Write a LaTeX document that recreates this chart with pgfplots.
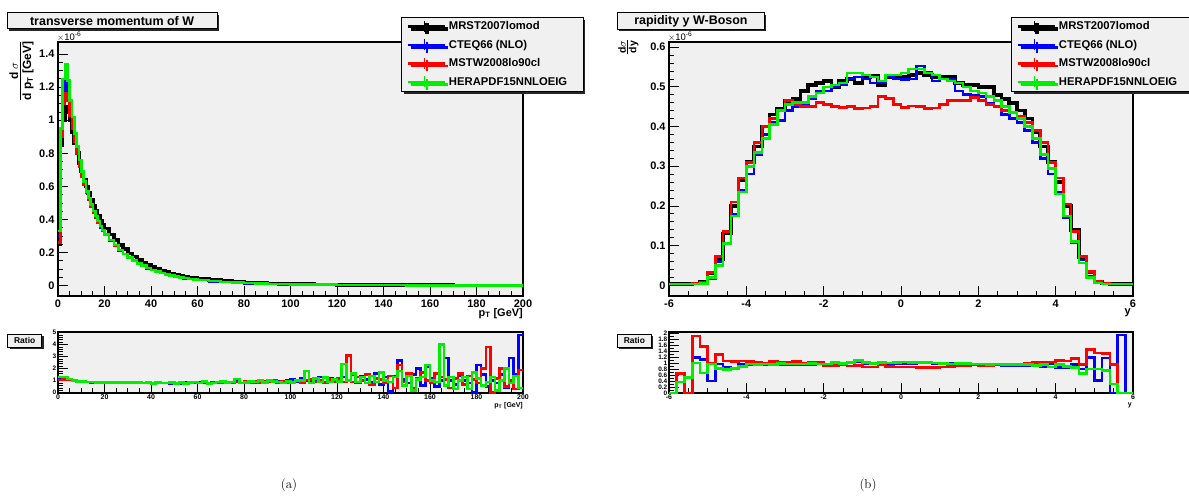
\documentclass[border=0pt]{standalone}
\usepackage{pgfplots}
\pgfplotsset{compat=1.18}
\usepackage{pgfplotstable}
\usepackage{fontspec}
\usetikzlibrary{shadows}
\newfontfamily\rootfont{Liberation Sans}
\newcommand\rf[1]{\rootfont\bfseries\fontsize{#1}{#1}\selectfont}
\definecolor{rootgray}{RGB}{240,240,240}
\definecolor{rblue}{RGB}{0,0,255}
\definecolor{rred}{RGB}{255,0,0}
\definecolor{rgreen}{RGB}{0,238,0}

% transverse momentum, x = left bin edge (GeV), values x 1e-6
\pgfplotstableread{
x k b r g
0 0.25 0.30 0.26 0.33
1 0.85 0.92 0.90 0.95
2 1.00 1.15 1.10 1.25
3 1.08 1.24 1.16 1.34
4 1.05 1.16 1.12 1.24
5 1.00 1.05 1.03 1.12
6 0.93 0.96 0.95 1.02
7 0.86 0.88 0.87 0.92
8 0.80 0.80 0.80 0.84
9 0.74 0.72 0.72 0.76
10 0.69 0.66 0.66 0.69
11 0.64 0.61 0.61 0.63
12 0.60 0.56 0.56 0.57
13 0.56 0.52 0.52 0.53
14 0.52 0.48 0.48 0.49
15 0.48 0.44 0.44 0.45
16 0.45 0.41 0.41 0.42
17 0.42 0.38 0.38 0.39
18 0.39 0.35 0.355 0.36
19 0.37 0.33 0.33 0.335
20 0.345 0.305 0.31 0.31
22 0.31 0.27 0.275 0.275
24 0.275 0.24 0.24 0.245
26 0.245 0.21 0.215 0.215
28 0.22 0.19 0.19 0.19
30 0.195 0.168 0.17 0.17
32 0.175 0.15 0.15 0.152
34 0.155 0.133 0.135 0.135
36 0.14 0.118 0.12 0.12
38 0.125 0.105 0.107 0.107
40 0.112 0.094 0.095 0.095
42 0.10 0.084 0.085 0.085
44 0.09 0.075 0.076 0.076
46 0.081 0.067 0.068 0.068
48 0.073 0.06 0.061 0.061
50 0.066 0.054 0.055 0.055
52 0.06 0.049 0.05 0.05
54 0.054 0.044 0.045 0.045
56 0.049 0.04 0.041 0.041
58 0.045 0.036 0.037 0.037
60 0.041 0.033 0.034 0.034
65 0.033 0.026 0.027 0.027
70 0.027 0.021 0.022 0.022
75 0.022 0.017 0.018 0.018
80 0.018 0.014 0.015 0.015
85 0.015 0.012 0.012 0.012
90 0.013 0.010 0.010 0.010
95 0.011 0.008 0.009 0.009
100 0.009 0.007 0.007 0.007
110 0.007 0.005 0.005 0.005
120 0.005 0.004 0.004 0.004
130 0.004 0.003 0.003 0.003
140 0.003 0.0025 0.0025 0.0025
150 0.0025 0.002 0.002 0.002
160 0.002 0.0015 0.0015 0.0015
170 0.0015 0.001 0.001 0.001
180 0.001 0.001 0.001 0.001
190 0.001 0.001 0.001 0.001
200 0.001 0.001 0.001 0.001
}\ptmain

% ratio to MRST2007lomod, pT bins of 2 GeV
\pgfplotstableread{
x b r g
0 1.15 1.05 1.30
2 1.15 1.10 1.30
4 1.05 1.05 1.15
6 0.98 0.98 1.02
8 0.93 0.93 0.95
10 0.90 0.90 0.92
12 0.88 0.88 0.90
14 0.87 0.88 0.88
16 0.86 0.86 0.87
18 0.86 0.86 0.87
20 0.85 0.86 0.86
22 0.84 0.86 0.85
24 0.85 0.86 0.85
26 0.84 0.84 0.85
28 0.83 0.85 0.84
30 0.84 0.84 0.84
32 0.82 0.85 0.83
34 0.83 0.84 0.84
36 0.82 0.82 0.80
38 0.84 0.83 0.86
40 0.80 0.82 0.78
42 0.83 0.82 0.84
44 0.80 0.80 0.82
46 0.82 0.80 0.80
48 0.78 0.81 0.84
50 0.82 0.78 0.79
52 0.79 0.82 0.83
54 0.83 0.80 0.78
56 0.86 0.82 0.84
58 0.80 0.80 0.90
60 0.90 0.82 0.80
62 0.85 0.88 0.94
64 0.80 0.78 0.76
66 0.88 0.84 0.82
68 0.82 0.86 0.90
70 0.90 0.82 0.96
72 0.80 0.90 0.84
74 0.86 0.82 0.88
76 0.92 0.88 1.15
78 0.82 0.80 0.82
80 0.88 0.92 0.86
82 0.98 0.86 0.92
84 0.86 0.96 0.88
86 0.94 0.86 1.00
88 0.84 0.92 0.86
90 1.05 0.94 1.00
92 0.90 1.00 0.92
94 0.98 0.86 0.90
96 0.86 0.94 0.80
98 1.00 0.80 0.95
100 1.10 0.90 0.85
102 0.92 1.00 1.00
104 1.20 0.85 1.00
106 1.00 1.05 1.80
108 0.85 1.10 0.80
110 1.05 0.90 1.20
112 1.30 1.00 0.90
114 0.90 0.85 1.25
116 1.20 1.10 0.90
118 1.00 0.95 1.10
120 0.90 1.20 0.95
122 1.30 0.90 2.40
124 1.00 3.10 1.00
126 1.50 0.90 1.60
128 0.80 1.30 0.90
130 1.40 1.00 1.30
132 1.10 1.50 0.80
134 0.90 0.70 1.40
136 1.60 1.20 0.90
138 0.70 1.10 1.70
140 1.30 0.80 1.00
142 0.10 1.40 0.90
144 1.40 0.40 1.30
146 2.70 2.30 1.80
148 1.10 0.90 0.60
150 0.80 1.60 1.40
152 1.50 0.40 0.20
154 2.00 1.20 1.10
156 0.60 1.70 1.30
158 2.20 1.00 2.30
160 1.20 0.80 1.00
162 0.50 1.60 0.90
164 1.00 1.30 4.00
166 2.90 1.10 0.60
168 1.00 0.40 1.30
170 0.70 1.20 0.30
172 1.40 1.60 1.00
174 1.00 0.70 1.30
176 0.80 1.40 0.30
178 0.00 1.10 1.70
180 2.30 0.80 1.20
182 1.50 2.00 0.60
184 0.50 3.80 0.90
186 1.00 0.00 1.30
188 0.80 1.20 0.20
190 1.50 2.00 1.00
192 0.40 0.50 2.00
194 2.90 1.00 0.80
196 1.50 0.30 1.40
198 4.80 1.90 0.40
200 4.80 1.90 0.40
}\ptratio

% rapidity, bins of 0.2, values x 1e-6
\pgfplotstableread{
x k b r g
-6.0 0.003 0.003 0.003 0.003
-5.8 0.003 0.003 0.003 0.003
-5.6 0.003 0.003 0.003 0.003
-5.4 0.004 0.003 0.004 0.003
-5.2 0.008 0.005 0.008 0.005
-5.0 0.030 0.017 0.032 0.020
-4.8 0.065 0.060 0.073 0.050
-4.6 0.130 0.107 0.135 0.105
-4.4 0.200 0.180 0.210 0.175
-4.2 0.265 0.240 0.270 0.235
-4.0 0.310 0.280 0.310 0.300
-3.8 0.350 0.330 0.360 0.335
-3.6 0.400 0.380 0.400 0.370
-3.4 0.430 0.410 0.420 0.405
-3.2 0.445 0.415 0.440 0.440
-3.0 0.465 0.440 0.465 0.455
-2.8 0.470 0.450 0.455 0.460
-2.6 0.490 0.455 0.450 0.460
-2.4 0.505 0.470 0.450 0.475
-2.2 0.510 0.490 0.460 0.485
-2.0 0.515 0.490 0.455 0.500
-1.8 0.500 0.500 0.450 0.505
-1.6 0.515 0.505 0.448 0.510
-1.4 0.520 0.520 0.450 0.535
-1.2 0.510 0.525 0.445 0.535
-1.0 0.525 0.520 0.447 0.530
-0.8 0.528 0.510 0.450 0.525
-0.6 0.505 0.510 0.475 0.515
-0.4 0.525 0.525 0.470 0.530
-0.2 0.525 0.520 0.455 0.530
0.0 0.525 0.518 0.448 0.535
0.2 0.530 0.520 0.452 0.545
0.4 0.535 0.553 0.450 0.545
0.6 0.530 0.536 0.446 0.535
0.8 0.525 0.515 0.447 0.530
1.0 0.525 0.520 0.455 0.520
1.2 0.525 0.520 0.466 0.515
1.4 0.510 0.490 0.466 0.510
1.6 0.505 0.480 0.465 0.500
1.8 0.505 0.478 0.473 0.490
2.0 0.500 0.475 0.465 0.485
2.2 0.500 0.458 0.456 0.475
2.4 0.480 0.450 0.450 0.465
2.6 0.470 0.430 0.440 0.450
2.8 0.460 0.420 0.435 0.435
3.0 0.440 0.410 0.425 0.420
3.2 0.420 0.390 0.410 0.400
3.4 0.385 0.360 0.390 0.370
3.6 0.350 0.320 0.360 0.330
3.8 0.310 0.280 0.310 0.295
4.0 0.260 0.235 0.270 0.230
4.2 0.200 0.170 0.205 0.175
4.4 0.140 0.107 0.135 0.110
4.6 0.070 0.064 0.072 0.056
4.8 0.033 0.022 0.035 0.020
5.0 0.008 0.006 0.010 0.006
5.2 0.004 0.003 0.004 0.003
5.4 0.003 0.003 0.003 0.003
5.6 0.003 0.003 0.003 0.003
5.8 0.003 0.003 0.003 0.003
6.0 0.003 0.003 0.003 0.003
}\ymain

% ratio to MRST2007lomod, rapidity
\pgfplotstableread{
x b r g
-6.0 0 0 0
-5.8 0.65 0.65 0.37
-5.6 0 0 0.52
-5.4 1.19 1.91 1.01
-5.2 1.12 1.57 0.67
-5.0 0.40 1.01 0.97
-4.8 0.97 1.29 0.82
-4.6 0.88 1.07 0.79
-4.4 0.82 1.05 0.82
-4.2 0.97 1.08 0.90
-4.0 0.95 1.05 0.97
-3.8 0.97 1.04 0.96
-3.6 0.95 1.00 0.98
-3.4 0.96 1.05 0.95
-3.2 0.95 1.03 1.00
-3.0 0.95 1.02 0.98
-2.8 0.96 1.05 0.98
-2.6 0.95 1.00 0.97
-2.4 0.96 1.04 1.00
-2.2 0.98 1.02 0.98
-2.0 0.97 0.92 0.97
-1.8 0.99 0.93 1.02
-1.6 1.00 0.95 0.99
-1.4 1.02 0.91 1.02
-1.2 1.06 0.92 1.09
-1.0 1.00 0.87 1.02
-0.8 0.98 0.88 1.00
-0.6 1.01 0.94 1.02
-0.4 0.98 0.90 1.01
-0.2 0.99 0.87 1.03
0.0 0.97 0.87 1.04
0.2 0.98 0.88 1.03
0.4 1.03 0.85 1.02
0.6 1.01 0.85 1.02
0.8 0.98 0.86 1.01
1.0 0.99 0.87 0.99
1.2 0.99 0.89 0.98
1.4 0.96 0.92 1.00
1.6 0.95 0.92 0.99
1.8 0.95 0.95 0.97
2.0 0.95 0.93 0.97
2.2 0.92 0.92 0.95
2.4 0.95 0.95 0.98
2.6 0.93 0.95 0.96
2.8 0.92 0.95 0.95
3.0 0.93 0.98 0.95
3.2 0.91 0.99 0.95
3.4 0.94 1.02 0.92
3.6 0.89 1.02 0.95
3.8 0.97 1.04 0.88
4.0 0.85 1.10 0.95
4.2 0.85 1.07 0.90
4.4 0.95 1.15 0.85
4.6 0.80 0.95 0.65
4.8 1.20 1.47 0.80
5.0 0.43 1.35 0.80
5.2 1.18 1.33 0.75
5.4 0 0.95 0.30
5.6 1.95 0 0
5.8 0 0 0
6.0 0 0 0
}\yratio

\pgfplotsset{
  rootaxis/.style={scale only axis, anchor=north west,
    axis background/.style={fill=rootgray},
    axis line style={line width=1.1bp},
    tick align=inside, tick pos=left,
    tick style={black, line width=0.8bp},
    /pgf/number format/assume math mode=true,
    legend cell align=left},
  mainlegend/.style={legend style={anchor=north west, draw=black, fill=rootgray,
    line width=0.8bp, font=\rf{11.3}, inner xsep=5bp, inner ysep=0bp,
    column sep=1bp, row sep=0bp, nodes={inner sep=1bp, minimum height=18.5bp},
    drop shadow={shadow xshift=2.5bp, shadow yshift=-2.5bp, fill=black!85, opacity=1}}},
  rootleg/.style={legend image code/.code={\path (0bp,0bp) -- (37bp,0bp);
      \draw[##1] (1bp,0bp) -- (32bp,0bp);
      \draw[##1,line width=1.6bp] (16.5bp,-5.5bp) -- (16.5bp,5.5bp);}},
  sk/.style={black, line width=3.6bp, const plot mark left, no markers, rootleg},
  sb/.style={rblue, line width=2.6bp, const plot mark left, no markers, rootleg},
  sr/.style={rred, line width=2.6bp, const plot mark left, no markers, rootleg},
  sg/.style={rgreen, line width=2.6bp, const plot mark left, no markers, rootleg},
  qb/.style={rblue, line width=2.6bp, const plot mark left, no markers},
  qr/.style={rred, line width=2.6bp, const plot mark left, no markers},
  qg/.style={rgreen, line width=2.6bp, const plot mark left, no markers},
}

\begin{document}
\begin{tikzpicture}
\useasboundingbox (0,0) rectangle (1189bp,-504bp);

% ---------------- (a) main ----------------
\begin{axis}[rootaxis, name=mL, at={(58bp,-42bp)}, width=465bp, height=254bp,
  xmin=0, xmax=200, ymin=-0.063, ymax=1.473,
  xtick={0,20,...,200}, ytick={0,0.2,0.4,0.6,0.8,1,1.2,1.4},
  minor x tick num=3, minor y tick num=3,
  major tick length=10bp, minor tick length=5bp,
  ticklabel style={font=\rf{11}},
  mainlegend, legend style={at={(0.7376,1.0996)}}]
\addplot[sk] table[x=x,y=k]{\ptmain};
\addlegendentry{\makebox[128bp][l]{MRST2007lomod}}
\addplot[sb] table[x=x,y=b]{\ptmain};
\addlegendentry{\makebox[128bp][l]{CTEQ66 (NLO)}}
\addplot[sr] table[x=x,y=r]{\ptmain};
\addlegendentry{\makebox[128bp][l]{MSTW2008lo90cl}}
\addplot[sg] table[x=x,y=g]{\ptmain};
\addlegendentry{\makebox[128bp][l]{HERAPDF15NNLOEIG}}
\end{axis}

% ---------------- (a) ratio ----------------
\begin{axis}[rootaxis, name=rL, at={(58bp,-332bp)}, width=465bp, height=61bp,
  xmin=0, xmax=200, ymin=-0.02, ymax=5.05,
  xtick={0,20,...,200}, ytick={0,1,2,3,4,5},
  minor x tick num=3, minor y tick num=4,
  major tick length=10bp, minor tick length=5bp,
  xticklabel style={font=\rf{7}, inner sep=1.5bp},
  yticklabel style={font=\rf{6.5}, inner sep=1.5bp}]
\addplot[qb] table[x=x,y=b]{\ptratio};
\addplot[qr] table[x=x,y=r]{\ptratio};
\addplot[qg] table[x=x,y=g]{\ptratio};
\end{axis}

% ---------------- (b) main ----------------
\begin{axis}[rootaxis, name=mR, at={(669bp,-42bp)}, width=464bp, height=254bp,
  xmin=-6, xmax=6, ymin=-0.027, ymax=0.613,
  xtick={-6,-4,...,6}, ytick={0,0.1,0.2,0.3,0.4,0.5,0.6},
  minor x tick num=3, minor y tick num=4,
  major tick length=10bp, minor tick length=5bp,
  ticklabel style={font=\rf{11}},
  mainlegend, legend style={at={(0.737,1.0996)}}]
\addplot[sk] table[x=x,y=k]{\ymain};
\addlegendentry{\makebox[126bp][l]{MRST2007lomod}}
\addplot[sb] table[x=x,y=b]{\ymain};
\addlegendentry{\makebox[126bp][l]{CTEQ66 (NLO)}}
\addplot[sr] table[x=x,y=r]{\ymain};
\addlegendentry{\makebox[126bp][l]{MSTW2008lo90cl}}
\addplot[sg] table[x=x,y=g]{\ymain};
\addlegendentry{\makebox[126bp][l]{HERAPDF15NNLOEIG}}
\end{axis}

% ---------------- (b) ratio ----------------
\begin{axis}[rootaxis, name=rR, at={(669bp,-332bp)}, width=464bp, height=61bp,
  xmin=-6, xmax=6, ymin=0, ymax=2.05,
  xtick={-6,-4,...,6}, ytick={0,0.2,0.4,0.6,0.8,1,1.2,1.4,1.6,1.8,2},
  minor x tick num=3, minor y tick num=1,
  major tick length=10bp, minor tick length=5bp,
  xticklabel style={font=\rf{7}, inner sep=1.5bp},
  yticklabel style={font=\rf{6.5}, inner sep=1.5bp}]
\addplot[qb] table[x=x,y=b]{\yratio};
\addplot[qr] table[x=x,y=r]{\yratio};
\addplot[qg] table[x=x,y=g]{\yratio};
\end{axis}

% ---------------- annotations ----------------
\tikzset{rbox/.style={draw=black, fill=rootgray, line width=0.8bp, anchor=north west, inner sep=0,
  drop shadow={shadow xshift=2bp, shadow yshift=-2bp, fill=black!85, opacity=1}}}
\node[rbox, minimum width=210bp, minimum height=16bp, font=\rf{12.5}] at (6.7bp,-12.3bp) {transverse momentum of W};
\node[rbox, minimum width=147bp, minimum height=16.5bp, font=\rf{12.5}] at (617bp,-12.3bp) {rapidity y W-Boson};
\node[rbox, minimum width=34bp, minimum height=12.5bp, font=\rf{8.5}] at (7.3bp,-334bp) {Ratio};
\node[rbox, minimum width=34bp, minimum height=12.5bp, font=\rf{8.5}] at (617bp,-334bp) {Ratio};

% multipliers
\node[anchor=south west, inner sep=0, font=\rootfont\fontsize{9.5}{10}\selectfont] at ([xshift=-1bp,yshift=0.5bp]mL.north west) {$\times$10\textsuperscript{-6}};
\node[anchor=south west, inner sep=0, font=\rootfont\fontsize{9.5}{10}\selectfont] at ([xshift=-1bp,yshift=0.5bp]mR.north west) {$\times$10\textsuperscript{-6}};

% axis titles
\node[anchor=north east, inner sep=0, font=\rf{11}] at ([yshift=-12bp]mL.south east) {p\textsubscript{T} [GeV]};
\node[anchor=north east, inner sep=0, font=\rf{11}] at ([xshift=-2bp,yshift=-13bp]mR.south east) {y};
\node[anchor=north east, inner sep=0, font=\rf{7}] at ([yshift=-9.5bp]rL.south east) {p\textsubscript{T} [GeV]};
\node[anchor=north east, inner sep=0, font=\rf{7}] at ([xshift=-1bp,yshift=-10bp]rR.south east) {y};

\node[rotate=90, inner sep=0, font=\rf{12}] at (22bp,-71bp)
  {\begin{tabular}{@{}c@{}}d\,$\sigma$\\[-2pt]\hline\rule{0pt}{11pt}d p\textsubscript{T} [GeV]\end{tabular}};
\node[rotate=90, inner sep=0, font=\rf{10.5}] at (629bp,-47bp)
  {\begin{tabular}{@{}c@{}}d$\sigma$\\[-2pt]\hline\rule{0pt}{9pt}dy\end{tabular}};

% captions
\node[font=\fontsize{13}{15}\selectfont] at (289bp,-485bp) {(a)};
\node[font=\fontsize{13}{15}\selectfont] at (868bp,-485bp) {(b)};
\end{tikzpicture}
\end{document}
